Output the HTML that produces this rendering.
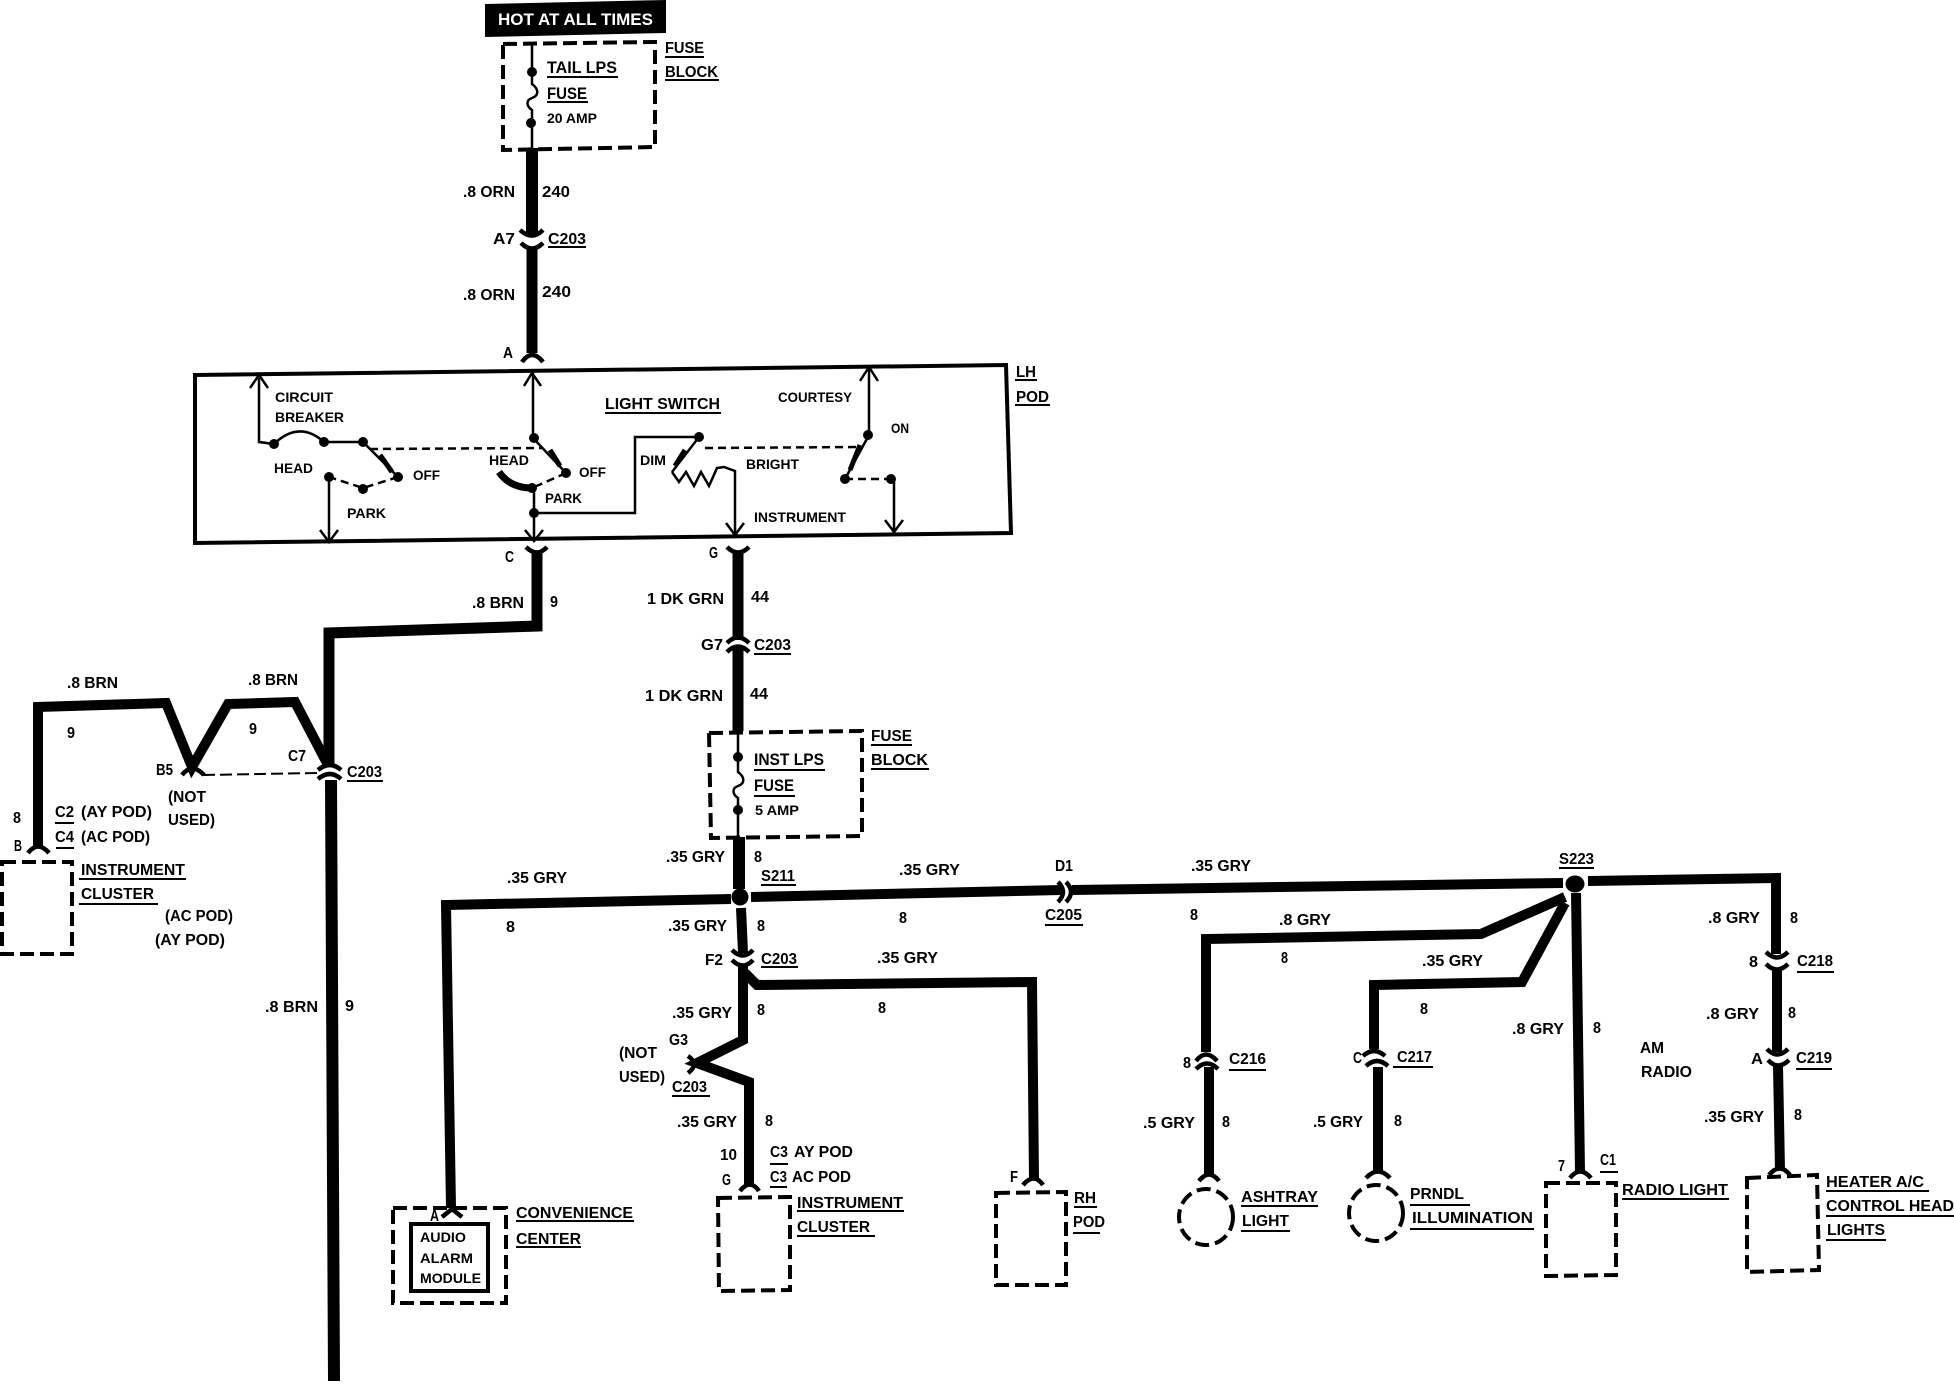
<!DOCTYPE html>
<html><head><meta charset="utf-8"><title>Wiring diagram</title>
<style>
html,body{margin:0;padding:0;background:#fff}
svg{display:block}
text{font-family:"Liberation Sans",sans-serif;font-weight:bold;font-size:16px;fill:#000}
.s{font-size:14px}
.b{font-size:17px}
.w{fill:none;stroke:#000;stroke-linejoin:miter;stroke-linecap:butt}
</style></head><body>
<svg xmlns="http://www.w3.org/2000/svg" width="1954" height="1392" viewBox="0 0 1954 1392">
<rect width="1954" height="1392" fill="#fff"/>

<!-- hot at all times -->
<polygon points="485,4 666,0 666,33 485,37" fill="#000"/>
<text x="498" y="25" textLength="155" lengthAdjust="spacingAndGlyphs" class="b" style="fill:#fff">HOT AT ALL TIMES</text>

<!-- dashed boxes -->
<g class="w" stroke-width="4" stroke-dasharray="14 6">
<path class="w" d="M503,44 L655,42 L655,147 L503,150 Z"/>
<path class="w" d="M709,733 L862,731 L862,836 L711,838 Z"/>
<path class="w" d="M2,862 L72,862 L72,954 L2,954 Z"/>
<path class="w" d="M393,1208 L506,1208 L506,1303 L393,1303 Z"/>
<path class="w" d="M718,1198 L790,1197 L790,1290 L719,1291 Z"/>
<path class="w" d="M996,1193 L1066,1192 L1066,1285 L996,1285 Z"/>
<path class="w" d="M1546,1183 L1616,1183 L1616,1275 L1546,1276 Z"/>
<path class="w" d="M1747,1178 L1817,1175 L1819,1270 L1747,1272 Z"/>
<ellipse class="w" cx="1206" cy="1217" rx="27" ry="28"/>
<ellipse class="w" cx="1376" cy="1213" rx="27" ry="28"/>
</g>
<rect x="411" y="1224" width="77" height="67" fill="none" stroke="#000" stroke-width="4"/>

<!-- LH pod box -->
<path class="w" stroke-width="4" d="M195,375 L1006,365 L1011,533 L195,543 Z"/>

<!-- thick wires 12 -->
<g class="w" stroke-width="12">
<path class="w" d="M532,148 V235"/>
<path class="w" d="M532,248 V353" stroke-width="11"/>
<path class="w" d="M537,552 V626 L329,633 V766" stroke-width="11"/>
<path class="w" d="M331,780 L334,1381"/>
<path class="w" d="M738,552 V640" stroke-width="11"/>
<path class="w" d="M738,646 V731" stroke-width="11"/>
<path class="w" d="M739,837 V889"/>
</g>
<!-- thinner wires 10 -->
<g class="w" stroke-width="10">
<path class="w" d="M38,847 V707 L166,703 L192,767 L228,704 L295,702 L328,765"/>
<path class="w" d="M731,899 L446,905 L451,1208"/>
<path class="w" d="M751,897 L1061,890"/>
<path class="w" d="M1072,890 L1563,883"/>
<path class="w" d="M1588,881 L1776,878 V954"/>
<path class="w" d="M1777,970 V1052"/>
<path class="w" d="M1778,1066 L1780,1170"/>
<path class="w" d="M1206,1052 V939 L1481,934 L1565,897"/>
<path class="w" d="M1209,1067 V1174"/>
<path class="w" d="M1374,1049 V985 L1522,982 L1565,903"/>
<path class="w" d="M1378,1067 V1172"/>
<path class="w" d="M1576,893 L1580,1172"/>
<path class="w" d="M741,908 L743,953"/>
<path class="w" d="M743,966 V1040 L697,1063 L749,1082 V1186"/>
<path class="w" d="M745,973 L757,985 L1032,982 L1034,1180"/>
</g>

<!-- connector arcs -->
<g class="w" stroke-width="4.5">
<path class="w" d="M520,230 Q532,241 543,230 M521,243 Q532,254 543,243"/>
<path class="w" d="M522,362 Q532,348 543,362"/>
<path class="w" d="M526,547 Q537,558 547,547"/>
<path class="w" d="M727,547 Q738,558 749,547"/>
<path class="w" d="M727,643 Q738,632 749,643 M727,652 Q738,641 749,652"/>
<path class="w" d="M318,770 Q330,760 341,770 M318,779 Q330,769 341,779"/>
<path class="w" d="M182,775 Q192,762 204,775"/>
<path class="w" d="M28,853 Q38,840 49,853"/>
<path class="w" d="M1058,882 Q1068,892 1058,902 M1066,882 Q1076,892 1066,902"/>
<path class="w" d="M732,950 Q743,961 753,950 M732,960 Q743,971 753,960"/>
<path class="w" d="M688,1056 Q700,1064 688,1073"/>
<path class="w" d="M442,1217 L452,1209 L462,1217"/>
<path class="w" d="M740,1191 Q750,1178 759,1191"/>
<path class="w" d="M1023,1185 Q1034,1172 1043,1185"/>
<path class="w" d="M1196,1061 Q1206,1048 1217,1061 M1196,1069 Q1207,1058 1218,1069"/>
<path class="w" d="M1199,1181 Q1209,1168 1219,1181"/>
<path class="w" d="M1363,1056 Q1374,1046 1385,1056 M1366,1066 Q1377,1056 1388,1066"/>
<path class="w" d="M1366,1178 Q1378,1165 1390,1178"/>
<path class="w" d="M1570,1178 Q1580,1165 1591,1178"/>
<path class="w" d="M1766,952 Q1777,963 1788,952 M1766,964 Q1777,975 1788,964"/>
<path class="w" d="M1767,1049 Q1777,1060 1788,1049 M1768,1060 Q1778,1071 1789,1060"/>
<path class="w" d="M1769,1175 Q1780,1162 1790,1175"/>
</g>

<!-- S211 S223 -->
<circle cx="740" cy="897" r="8.5" fill="#000"/>
<ellipse cx="1575" cy="884" rx="9.5" ry="8.5" fill="#000"/>

<!-- fine wiring -->
<g class="w" stroke-width="2.5">
<path class="w" d="M532,44 V84 C540,90 538,96 532,98 C526,100 526,106 532,110 V150"/>
<path class="w" d="M738,731 V772 C746,778 744,784 738,786 C732,788 732,794 738,798 V837"/>
<path class="w" d="M259,378 V442 L274,444 Q299,420 324,442 H363 L398,477"/>
<path class="w" d="M250,388 L259,375 L268,388"/>
<path class="w" d="M329,477 V542 M320,530 L329,542 L338,530"/>
<path class="w" d="M533,373 V438 L566,473"/>
<path class="w" d="M524,386 L532,373 L541,386"/>
<path class="w" d="M534,488 V541 M525,530 L534,541 L543,530"/>
<path class="w" d="M534,513 H635 V437 H699 L672,472"/>
<path class="w" d="M672,472 L679,482 L686,472 L694,486 L701,472 L709,486 L717,468 L724,467 L735,471 V535"/>
<path class="w" d="M726,523 L735,535 L744,523"/>
<path class="w" d="M869,368 V435 L845,479"/>
<path class="w" d="M860,381 L869,367 L878,381"/>
<path class="w" d="M894,479 V532 M885,520 L894,532 L903,520"/>
</g>
<g class="w" stroke-width="2.5" stroke-dasharray="8 5">
<path class="w" d="M370,449 L543,448"/>
<path class="w" d="M705,448 L858,447"/>
<path class="w" d="M398,477 L363,488 L329,477"/>
<path class="w" d="M566,473 L532,488"/>
<path class="w" d="M845,479 H891"/>
<path class="w" stroke-dasharray="12 5" d="M203,775 L317,773" stroke-width="2"/>
</g>
<path class="w" stroke-width="7" d="M499,472 Q510,488 532,488"/>
<path class="w" stroke-width="5" d="M380,455 L392,472 M550,450 L560,466 M685,450 L675,466 M860,445 L850,470"/>
<g fill="#000">
<circle cx="532" cy="72" r="5"/><circle cx="531" cy="123" r="5"/>
<circle cx="738" cy="757" r="5"/><circle cx="738" cy="810" r="5"/>
<circle cx="274" cy="444" r="5"/><circle cx="324" cy="442" r="5"/><circle cx="363" cy="442" r="5"/>
<circle cx="398" cy="477" r="5"/><circle cx="363" cy="489" r="5"/><circle cx="329" cy="477" r="5"/>
<circle cx="534" cy="438" r="5"/><circle cx="566" cy="473" r="5"/><circle cx="532" cy="488" r="5"/><circle cx="534" cy="513" r="5"/>
<circle cx="699" cy="437" r="5"/><circle cx="868" cy="435" r="5"/><circle cx="845" cy="479" r="5"/><circle cx="891" cy="479" r="5"/>
</g>

<!-- underlines -->
<path class="w" stroke-width="2" d="M547,77H618 M547,102H588 M665,57H704 M665,80H719 M548,247H586 M605,413H721 M1015,380H1037 M1015,405H1050 M754,654H791 M871,745H912 M871,769H929 M754,770H825 M754,796H795 M347,781H383 M55,823H74 M56,848H74 M79,879H186 M79,904H158 M761,885H796 M1045,925H1083 M761,967H798 M672,1096H710 M770,1164H788 M770,1187H787 M516,1221H634 M516,1247H581 M797,1211H904 M797,1236H875 M1074,1207H1097 M1073,1233H1100 M1559,868H1594 M1797,972H1834 M1796,1069H1832 M1229,1070H1266 M1393,1067H1433 M1600,1172H1618 M1622,1199H1729 M1241,1206H1318 M1241,1231H1290 M1410,1205H1470 M1410,1229H1534 M1826,1191H1929 M1826,1216H1954 M1826,1240H1886"/>

<!-- labels -->
<g>
<text x="547" y="73" textLength="70" lengthAdjust="spacingAndGlyphs" class="b">TAIL LPS</text>
<text x="547" y="99" textLength="40" lengthAdjust="spacingAndGlyphs" class="b">FUSE</text>
<text x="547" y="123" textLength="50" lengthAdjust="spacingAndGlyphs" class="s">20 AMP</text>
<text x="665" y="53" textLength="39" lengthAdjust="spacingAndGlyphs">FUSE</text>
<text x="665" y="77" textLength="53" lengthAdjust="spacingAndGlyphs">BLOCK</text>
<text x="463" y="197" textLength="52" lengthAdjust="spacingAndGlyphs">.8 ORN</text>
<text x="542" y="197" textLength="28" lengthAdjust="spacingAndGlyphs">240</text>
<text x="493" y="244" textLength="22" lengthAdjust="spacingAndGlyphs">A7</text>
<text x="548" y="244" textLength="38" lengthAdjust="spacingAndGlyphs">C203</text>
<text x="463" y="300" textLength="52" lengthAdjust="spacingAndGlyphs">.8 ORN</text>
<text x="542" y="297" textLength="29" lengthAdjust="spacingAndGlyphs">240</text>
<text x="503" y="358" textLength="10" lengthAdjust="spacingAndGlyphs">A</text>

<text x="275" y="402" textLength="58" lengthAdjust="spacingAndGlyphs" class="s">CIRCUIT</text>
<text x="275" y="422" textLength="69" lengthAdjust="spacingAndGlyphs" class="s">BREAKER</text>
<text x="274" y="473" textLength="39" lengthAdjust="spacingAndGlyphs" class="s">HEAD</text>
<text x="413" y="480" textLength="27" lengthAdjust="spacingAndGlyphs" class="s">OFF</text>
<text x="347" y="518" textLength="39" lengthAdjust="spacingAndGlyphs" class="s">PARK</text>
<text x="489" y="465" textLength="40" lengthAdjust="spacingAndGlyphs" class="s">HEAD</text>
<text x="579" y="477" textLength="27" lengthAdjust="spacingAndGlyphs" class="s">OFF</text>
<text x="545" y="503" textLength="37" lengthAdjust="spacingAndGlyphs" class="s">PARK</text>
<text x="605" y="409" textLength="115" lengthAdjust="spacingAndGlyphs">LIGHT SWITCH</text>
<text x="778" y="402" textLength="74" lengthAdjust="spacingAndGlyphs" class="s">COURTESY</text>
<text x="891" y="433" textLength="18" lengthAdjust="spacingAndGlyphs" class="s">ON</text>
<text x="640" y="465" textLength="26" lengthAdjust="spacingAndGlyphs" class="s">DIM</text>
<text x="746" y="469" textLength="53" lengthAdjust="spacingAndGlyphs" class="s">BRIGHT</text>
<text x="754" y="522" textLength="92" lengthAdjust="spacingAndGlyphs" class="s">INSTRUMENT</text>
<text x="1016" y="377" textLength="20" lengthAdjust="spacingAndGlyphs">LH</text>
<text x="1016" y="402" textLength="33" lengthAdjust="spacingAndGlyphs">POD</text>
<text x="505" y="562" textLength="9" lengthAdjust="spacingAndGlyphs">C</text>
<text x="709" y="558" textLength="9" lengthAdjust="spacingAndGlyphs">G</text>

<text x="472" y="608" textLength="52" lengthAdjust="spacingAndGlyphs">.8 BRN</text>
<text x="550" y="607" textLength="8" lengthAdjust="spacingAndGlyphs">9</text>
<text x="647" y="604" textLength="77" lengthAdjust="spacingAndGlyphs">1 DK GRN</text>
<text x="751" y="602" textLength="18" lengthAdjust="spacingAndGlyphs">44</text>
<text x="701" y="650" textLength="22" lengthAdjust="spacingAndGlyphs">G7</text>
<text x="754" y="650" textLength="37" lengthAdjust="spacingAndGlyphs">C203</text>
<text x="645" y="701" textLength="78" lengthAdjust="spacingAndGlyphs">1 DK GRN</text>
<text x="750" y="699" textLength="18" lengthAdjust="spacingAndGlyphs">44</text>
<text x="871" y="741" textLength="41" lengthAdjust="spacingAndGlyphs">FUSE</text>
<text x="871" y="765" textLength="57" lengthAdjust="spacingAndGlyphs">BLOCK</text>
<text x="754" y="765" textLength="70" lengthAdjust="spacingAndGlyphs" class="b">INST LPS</text>
<text x="754" y="791" textLength="40" lengthAdjust="spacingAndGlyphs" class="b">FUSE</text>
<text x="755" y="815" textLength="44" lengthAdjust="spacingAndGlyphs" class="s">5 AMP</text>

<text x="67" y="688" textLength="51" lengthAdjust="spacingAndGlyphs">.8 BRN</text>
<text x="67" y="738" textLength="8" lengthAdjust="spacingAndGlyphs">9</text>
<text x="248" y="685" textLength="50" lengthAdjust="spacingAndGlyphs">.8 BRN</text>
<text x="249" y="734" textLength="8" lengthAdjust="spacingAndGlyphs">9</text>
<text x="288" y="761" textLength="18" lengthAdjust="spacingAndGlyphs">C7</text>
<text x="156" y="775" textLength="17" lengthAdjust="spacingAndGlyphs">B5</text>
<text x="347" y="777" textLength="35" lengthAdjust="spacingAndGlyphs">C203</text>
<text x="168" y="802" textLength="38" lengthAdjust="spacingAndGlyphs">(NOT</text>
<text x="168" y="825" textLength="47" lengthAdjust="spacingAndGlyphs">USED)</text>
<text x="13" y="823" textLength="8" lengthAdjust="spacingAndGlyphs">8</text>
<text x="14" y="851" textLength="8" lengthAdjust="spacingAndGlyphs">B</text>
<text x="55" y="817" textLength="19" lengthAdjust="spacingAndGlyphs">C2</text>
<text x="81" y="817" textLength="71" lengthAdjust="spacingAndGlyphs">(AY POD)</text>
<text x="55" y="842" textLength="19" lengthAdjust="spacingAndGlyphs">C4</text>
<text x="81" y="842" textLength="69" lengthAdjust="spacingAndGlyphs">(AC POD)</text>
<text x="81" y="875" textLength="104" lengthAdjust="spacingAndGlyphs">INSTRUMENT</text>
<text x="81" y="899" textLength="73" lengthAdjust="spacingAndGlyphs">CLUSTER</text>
<text x="165" y="921" textLength="68" lengthAdjust="spacingAndGlyphs">(AC POD)</text>
<text x="155" y="945" textLength="70" lengthAdjust="spacingAndGlyphs">(AY POD)</text>
<text x="265" y="1012" textLength="53" lengthAdjust="spacingAndGlyphs">.8 BRN</text>
<text x="345" y="1011" textLength="9" lengthAdjust="spacingAndGlyphs">9</text>

<text x="507" y="883" textLength="60" lengthAdjust="spacingAndGlyphs">.35 GRY</text>
<text x="506" y="932" textLength="9" lengthAdjust="spacingAndGlyphs">8</text>
<text x="666" y="862" textLength="59" lengthAdjust="spacingAndGlyphs">.35 GRY</text>
<text x="754" y="862" textLength="8" lengthAdjust="spacingAndGlyphs">8</text>
<text x="761" y="881" textLength="34" lengthAdjust="spacingAndGlyphs">S211</text>
<text x="899" y="875" textLength="61" lengthAdjust="spacingAndGlyphs">.35 GRY</text>
<text x="899" y="923" textLength="8" lengthAdjust="spacingAndGlyphs">8</text>
<text x="1055" y="871" textLength="18" lengthAdjust="spacingAndGlyphs">D1</text>
<text x="1045" y="920" textLength="37" lengthAdjust="spacingAndGlyphs">C205</text>
<text x="668" y="931" textLength="59" lengthAdjust="spacingAndGlyphs">.35 GRY</text>
<text x="757" y="931" textLength="8" lengthAdjust="spacingAndGlyphs">8</text>
<text x="705" y="965" textLength="18" lengthAdjust="spacingAndGlyphs">F2</text>
<text x="761" y="964" textLength="36" lengthAdjust="spacingAndGlyphs">C203</text>
<text x="877" y="963" textLength="61" lengthAdjust="spacingAndGlyphs">.35 GRY</text>
<text x="878" y="1013" textLength="8" lengthAdjust="spacingAndGlyphs">8</text>
<text x="672" y="1018" textLength="60" lengthAdjust="spacingAndGlyphs">.35 GRY</text>
<text x="757" y="1015" textLength="8" lengthAdjust="spacingAndGlyphs">8</text>
<text x="669" y="1045" textLength="19" lengthAdjust="spacingAndGlyphs">G3</text>
<text x="619" y="1058" textLength="38" lengthAdjust="spacingAndGlyphs">(NOT</text>
<text x="619" y="1082" textLength="46" lengthAdjust="spacingAndGlyphs">USED)</text>
<text x="672" y="1092" textLength="35" lengthAdjust="spacingAndGlyphs">C203</text>
<text x="677" y="1127" textLength="60" lengthAdjust="spacingAndGlyphs">.35 GRY</text>
<text x="765" y="1126" textLength="8" lengthAdjust="spacingAndGlyphs">8</text>
<text x="720" y="1160" textLength="17" lengthAdjust="spacingAndGlyphs">10</text>
<text x="722" y="1185" textLength="9" lengthAdjust="spacingAndGlyphs">G</text>
<text x="770" y="1157" textLength="18" lengthAdjust="spacingAndGlyphs">C3</text>
<text x="794" y="1157" textLength="59" lengthAdjust="spacingAndGlyphs">AY POD</text>
<text x="770" y="1182" textLength="17" lengthAdjust="spacingAndGlyphs">C3</text>
<text x="792" y="1182" textLength="59" lengthAdjust="spacingAndGlyphs">AC POD</text>
<text x="797" y="1208" textLength="106" lengthAdjust="spacingAndGlyphs">INSTRUMENT</text>
<text x="797" y="1232" textLength="73" lengthAdjust="spacingAndGlyphs">CLUSTER</text>
<text x="1074" y="1203" textLength="22" lengthAdjust="spacingAndGlyphs">RH</text>
<text x="1073" y="1227" textLength="32" lengthAdjust="spacingAndGlyphs">POD</text>
<text x="1010" y="1182" textLength="8" lengthAdjust="spacingAndGlyphs">F</text>
<text x="430" y="1221" textLength="9" lengthAdjust="spacingAndGlyphs">A</text>
<text x="420" y="1242" textLength="46" lengthAdjust="spacingAndGlyphs" class="s">AUDIO</text>
<text x="420" y="1263" textLength="53" lengthAdjust="spacingAndGlyphs" class="s">ALARM</text>
<text x="420" y="1283" textLength="61" lengthAdjust="spacingAndGlyphs" class="s">MODULE</text>
<text x="516" y="1218" textLength="117" lengthAdjust="spacingAndGlyphs">CONVENIENCE</text>
<text x="516" y="1244" textLength="65" lengthAdjust="spacingAndGlyphs">CENTER</text>

<text x="1191" y="871" textLength="60" lengthAdjust="spacingAndGlyphs">.35 GRY</text>
<text x="1190" y="920" textLength="8" lengthAdjust="spacingAndGlyphs">8</text>
<text x="1279" y="925" textLength="52" lengthAdjust="spacingAndGlyphs">.8 GRY</text>
<text x="1281" y="963" textLength="7" lengthAdjust="spacingAndGlyphs">8</text>
<text x="1422" y="966" textLength="61" lengthAdjust="spacingAndGlyphs">.35 GRY</text>
<text x="1420" y="1014" textLength="8" lengthAdjust="spacingAndGlyphs">8</text>
<text x="1512" y="1034" textLength="52" lengthAdjust="spacingAndGlyphs">.8 GRY</text>
<text x="1593" y="1033" textLength="8" lengthAdjust="spacingAndGlyphs">8</text>
<text x="1559" y="864" textLength="35" lengthAdjust="spacingAndGlyphs">S223</text>
<text x="1708" y="923" textLength="52" lengthAdjust="spacingAndGlyphs">.8 GRY</text>
<text x="1790" y="923" textLength="8" lengthAdjust="spacingAndGlyphs">8</text>
<text x="1749" y="967" textLength="9" lengthAdjust="spacingAndGlyphs">8</text>
<text x="1797" y="966" textLength="36" lengthAdjust="spacingAndGlyphs">C218</text>
<text x="1706" y="1019" textLength="53" lengthAdjust="spacingAndGlyphs">.8 GRY</text>
<text x="1788" y="1018" textLength="8" lengthAdjust="spacingAndGlyphs">8</text>
<text x="1751" y="1064" textLength="12" lengthAdjust="spacingAndGlyphs">A</text>
<text x="1796" y="1063" textLength="36" lengthAdjust="spacingAndGlyphs">C219</text>
<text x="1704" y="1122" textLength="60" lengthAdjust="spacingAndGlyphs">.35 GRY</text>
<text x="1794" y="1120" textLength="8" lengthAdjust="spacingAndGlyphs">8</text>
<text x="1640" y="1053" textLength="24" lengthAdjust="spacingAndGlyphs">AM</text>
<text x="1641" y="1077" textLength="51" lengthAdjust="spacingAndGlyphs">RADIO</text>
<text x="1183" y="1068" textLength="8" lengthAdjust="spacingAndGlyphs">8</text>
<text x="1229" y="1064" textLength="37" lengthAdjust="spacingAndGlyphs">C216</text>
<text x="1353" y="1063" textLength="9" lengthAdjust="spacingAndGlyphs">C</text>
<text x="1397" y="1062" textLength="35" lengthAdjust="spacingAndGlyphs">C217</text>
<text x="1143" y="1128" textLength="52" lengthAdjust="spacingAndGlyphs">.5 GRY</text>
<text x="1222" y="1127" textLength="8" lengthAdjust="spacingAndGlyphs">8</text>
<text x="1313" y="1127" textLength="50" lengthAdjust="spacingAndGlyphs">.5 GRY</text>
<text x="1394" y="1126" textLength="8" lengthAdjust="spacingAndGlyphs">8</text>
<text x="1558" y="1171" textLength="7" lengthAdjust="spacingAndGlyphs">7</text>
<text x="1600" y="1165" textLength="16" lengthAdjust="spacingAndGlyphs">C1</text>
<text x="1622" y="1195" textLength="106" lengthAdjust="spacingAndGlyphs">RADIO LIGHT</text>
<text x="1241" y="1202" textLength="77" lengthAdjust="spacingAndGlyphs">ASHTRAY</text>
<text x="1242" y="1226" textLength="47" lengthAdjust="spacingAndGlyphs">LIGHT</text>
<text x="1410" y="1199" textLength="54" lengthAdjust="spacingAndGlyphs">PRNDL</text>
<text x="1412" y="1223" textLength="121" lengthAdjust="spacingAndGlyphs">ILLUMINATION</text>
<text x="1826" y="1187" textLength="98" lengthAdjust="spacingAndGlyphs">HEATER A/C</text>
<text x="1826" y="1211" textLength="128" lengthAdjust="spacingAndGlyphs">CONTROL HEAD</text>
<text x="1827" y="1235" textLength="58" lengthAdjust="spacingAndGlyphs">LIGHTS</text>
</g>
</svg>
</body></html>
